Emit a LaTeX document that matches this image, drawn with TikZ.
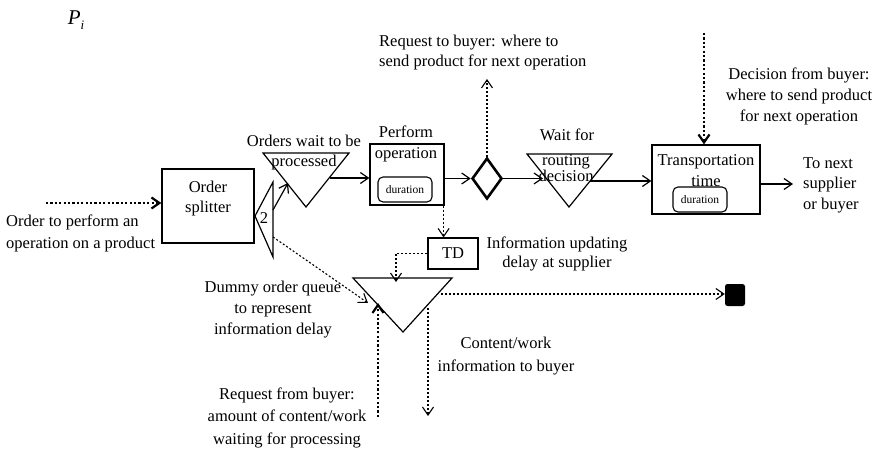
\documentclass[tikz,border=0pt]{standalone}
\usepackage{fontspec}
\setmainfont{Liberation Serif}
\usetikzlibrary{positioning}
\usetikzlibrary{shapes.geometric}
\usetikzlibrary{arrows.meta}

\tikzset{
  flow/.style={-{Straight Barb[length=8pt,width=11pt]},line width=1.2pt},
  info/.style={-{Straight Barb[length=8pt,width=11pt]},line width=1.1pt,dash pattern=on 2pt off 2pt},
  req/.style={-{Straight Barb[length=8pt,width=11pt]},line width=2.2pt,dash pattern=on 2.2pt off 2.2pt},
  procbox/.style={draw,line width=1.2pt,inner sep=0pt},
  durbox/.style={draw,line width=1.1pt,rounded corners=5pt,inner sep=0pt,
    minimum width=54pt,minimum height=25pt,font=\fontsize{11.5}{12}\selectfont},
  lbl/.style={inner sep=0pt,align=center},
  queue/.style={line width=1.2pt,line join=miter},
}

\begin{document}
\begin{tikzpicture}[x=1pt,y=-1pt,font=\fontsize{16.5}{21}\selectfont]
		\useasboundingbox (0,0) rectangle (876,452);
		\node[lbl] (pi) at (76,20) {\fontsize{21}{21}\selectfont\itshape P\raisebox{-5pt}{\fontsize{13}{13}\selectfont i}};
%		order splitter
		\node[procbox,minimum width=92pt,minimum height=74pt] (split) at (208,206) {};
		\node[lbl,font=\fontsize{16.5}{20}\selectfont] (splitlbl) at (208,199) {Order\\splitter};
		\coordinate (ordin) at (46,203);
		\draw[req] (ordin) -- (ordin -| split.west);
		\node[lbl,anchor=west,align=left,font=\fontsize{16.5}{22}\selectfont] (ordlbl) at (6,233) {Order to perform an\\operation on a product};
		\coordinate (s1) at (273,182);
		\coordinate (s2) at (255,216);
		\coordinate (s3) at (273,257);
		\draw[queue] (s1) -- (s2) -- (s3) -- cycle;
		\node[lbl] (two) at (264,218) {2};
%		orders wait to be processed
		\coordinate (q1) at (263,153);
		\coordinate (q2) at (349,153);
		\coordinate (q3) at (306,207);
		\draw[queue] (q1) -- (q2) -- (q3) -- cycle;
		\node[lbl,font=\fontsize{16.5}{20}\selectfont] (qlbl) at (304,153) {Orders wait to be\\processed};
		\coordinate (sout) at (273,210);
		\coordinate (qin) at (288,183);
		\draw[flow] (sout) -- (qin);
%		perform operation
		\node[procbox,minimum width=74pt,minimum height=61pt] (op) at (407,174.5) {};
		\node[lbl] (oplbl) at (406,143.5) {Perform\\operation};
		\node[durbox] (opdur) at (405,189.5) {duration};
		\coordinate (qout) at (330,178);
		\draw[flow] (qout) -- (qout -| op.west);
%		routing
		\node[draw,diamond,line width=2.6pt,minimum width=30pt,minimum height=41pt,inner sep=0pt] (route) at (487,178.5) {};
		\draw[flow] (op.east |- route.west) -- (route.west);
		\coordinate (ask) at (487,79);
		\draw[info] (route.north) -- (ask);
		\node[lbl,anchor=west,align=left,font=\fontsize{16.5}{20}\selectfont] (asklbl) at (379,53) {Request to buyer: where to\\send product for next operation};
%		wait for routing decision
		\coordinate (w1) at (527,154);
		\coordinate (w2) at (612,154);
		\coordinate (w3) at (569,207);
		\draw[queue] (w1) -- (w2) -- (w3) -- cycle;
		\node[lbl] (waitlbl) at (567,135) {Wait for};
		\node[lbl,font=\fontsize{16.5}{14}\selectfont] (routelbl) at (566,168) {routing\\decision};
		\coordinate (win) at (543,178.5);
		\draw[flow] (route.east) -- (win);
%		transportation
		\node[procbox,minimum width=108pt,minimum height=69pt] (trans) at (706,179.5) {};
		\node[lbl] (translbl) at (706,170.5) {Transportation\\time};
		\node[durbox] (transdur) at (700,199.5) {duration};
		\coordinate (wout) at (590,181);
		\draw[flow] (wout) -- (wout -| trans.west);
		\coordinate (decide) at (704,33);
		\draw[req] (decide) -- (decide |- trans.north);
		\node[lbl] (decidelbl) at (799,96) {Decision from buyer:\\where to send product\\for next operation};
		\coordinate (tonext) at (793,184);
		\draw[flow] (trans.east |- tonext) -- (tonext);
		\node[lbl,anchor=west,align=left,font=\fontsize{16.5}{20.5}\selectfont] (nextlbl) at (803,185) {To next\\supplier\\or buyer};
%		information delay
		\node[procbox,minimum width=50pt,minimum height=31pt] (td) at (453,253.5) {TD};
		\node[lbl,font=\fontsize{16.5}{19}\selectfont] (tdlbl) at (557,253.5) {Information updating\\delay at supplier};
		\draw[info] ([xshift=-1pt]op.south east) -- ([xshift=-1pt]op.south east |- td.north);
		\coordinate (d1) at (353,278);
		\coordinate (d2) at (452,278);
		\coordinate (d3) at (403,332);
		\draw[queue] (d1) -- (d2) -- (d3) -- cycle;
		\coordinate (din) at (396,282);
		\draw[info] (td.west) -| (din);
		\coordinate (sdum) at (273,237);
		\coordinate (ddum) at (368,303);
		\draw[info] (sdum) -- (ddum);
		\node[lbl] (dumlbl) at (273,310) {Dummy order queue\\to represent\\information delay};
		\node[fill,rounded corners=2.5pt,minimum width=20pt,minimum height=22pt,inner sep=0pt] (sink) at (735,295) {};
		\coordinate (dout) at (441,294);
		\draw[info] (dout) -- (dout -| sink.west);
		\coordinate (reqin) at (378,417);
		\draw[req] (reqin) -- (378,303);
		\node[lbl,font=\fontsize{16.5}{22.5}\selectfont] (reqlbl) at (287,417.5) {Request from buyer:\\amount of content/work\\waiting for processing};
		\coordinate (cw) at (428,308);
		\draw[info] (cw) -- (428,416);
		\node[lbl,font=\fontsize{16.5}{23}\selectfont] (cwlbl) at (506,356.5) {Content/work\\information to buyer};
\end{tikzpicture}
\end{document}
